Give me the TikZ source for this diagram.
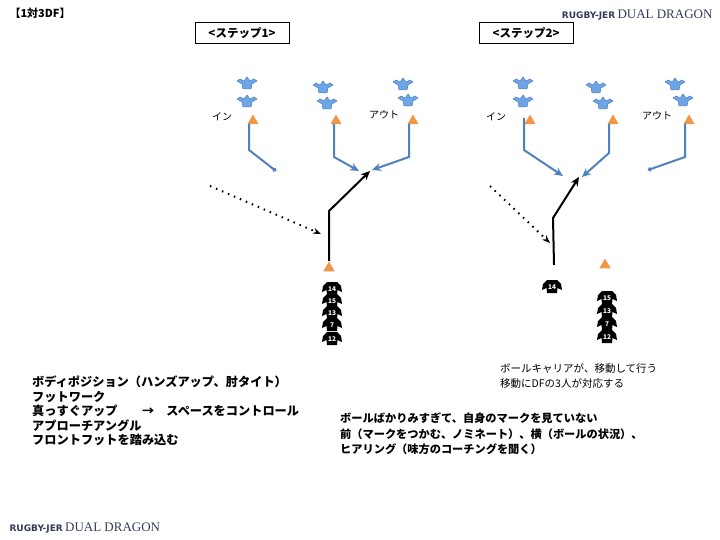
\documentclass[tikz,border=0pt]{standalone}
\usepackage{fontspec}
\setmainfont{Noto Sans CJK JP}
\newfontfamily\logoserif{Liberation Serif}
\newfontfamily\logosans{DejaVu Sans}
\usetikzlibrary{arrows.meta,shapes.geometric}
\definecolor{dfblue}{RGB}{79,129,189}
\definecolor{dflight}{RGB}{110,165,230}
\definecolor{cone}{RGB}{240,150,70}
\definecolor{logo}{RGB}{50,60,90}
\tikzset{
  defender/.pic={\fill[dflight,draw=dfblue,line width=0.5pt]
    (-4,6)--(4,6)--(5,1)--(10,-2)--(7,-4)--(3,-2)--(0,-6)--(-3,-2)--(-7,-4)--(-10,-2)--(-5,1)--cycle;},
  attacker/.pic={\fill[black] (-5,7)--(5,7)--(5.5,2)--(10,4)--(9,-2)--(5,-6)--(-5,-6)--(-9,-2)--(-10,4)--(-5.5,2)--cycle;
    \node[text=white,font=\bfseries\fontsize{6.5}{6.5}\selectfont,inner sep=0pt] at (0,1) {#1};},
  cone/.style={fill=cone,regular polygon,regular polygon sides=3,inner sep=0pt,minimum size=13pt},
  runline/.style={dfblue,line width=2pt,-{Stealth[length=9pt,width=8pt,open,line width=1.5pt]}},
  stopline/.style={dfblue,line width=2pt,-{Circle[length=4pt]}},
  carry/.style={black,line width=2pt,-{Stealth[length=9pt,width=8pt,open,line width=1.5pt]}},
  passline/.style={black,line width=2pt,dash pattern=on 1.5pt off 5pt,-{Stealth[length=8pt,open]}},
  stepbox/.style={draw,line width=0.8pt,font=\bfseries\fontsize{11.5}{11.5}\selectfont,minimum width=94pt,minimum height=21pt},
  note/.style={anchor=west,align=left,inner sep=0pt},
  label/.style={font=\fontsize{10}{10}\selectfont,inner sep=0pt}
}
\begin{document}
\begin{tikzpicture}[x=1pt,y=-1pt]
    \useasboundingbox (0,0) rectangle (720,540);

    % header
    \node[anchor=west,font=\bfseries\fontsize{11}{11}\selectfont] (title) at (6,13) {【1対3DF】};
    \node[anchor=east,text=logo] (logotop) at (716,15) {{\logosans\bfseries\fontsize{9}{9}\selectfont RUGBY-JER} {\logoserif\fontsize{13}{13}\selectfont DUAL DRAGON}};
    \node[anchor=west,text=logo] (logobot) at (6,528) {{\logosans\bfseries\fontsize{9}{9}\selectfont RUGBY-JER} {\logoserif\fontsize{13}{13}\selectfont DUAL DRAGON}};
    \node[stepbox] (stepA) at (242,33) {<ステップ1>};
    \node[stepbox] (stepB) at (526,33) {<ステップ2>};

    %%%%%%%%%%%%%%%%%%%%%%%%%%%%%%%%%%%%%%%%%%%%%%%%%%%%%%

    % step 1 defenders
    \foreach \x/\y in {247/83,247/101,323/87,327/103,403/84,408/100}
      \pic at (\x,\y) {defender};
    \node[cone] (inA) at (253,121) {};
    \node[cone] (midA) at (336,121) {};
    \node[cone] (outA) at (413,121) {};
    \node[label] (inlabA) at (222,117) {イン};
    \node[label] (outlabA) at (384,115) {アウト};

    % step 1 defence lines
    \coordinate (inA0) at (249,124);  \coordinate (inA1) at (249,150);  \coordinate (inA2) at (276,171);
    \coordinate (midA0) at (334,124); \coordinate (midA1) at (334,157); \coordinate (midA2) at (359,171);
    \coordinate (outA0) at (409,124); \coordinate (outA1) at (409,157); \coordinate (outA2) at (372,170);
    \draw[stopline] (inA0) -- (inA1) -- (inA2);
    \draw[runline] (midA0) -- (midA1) -- (midA2);
    \draw[runline] (outA0) -- (outA1) -- (outA2);

    % step 1 ball carrier
    \node[cone] (carrierA) at (329,268) {};
    \coordinate (bendA) at (329,211); \coordinate (tipA) at (370,171);
    \draw[carry] (carrierA.north) -- (bendA) -- (tipA);
    \coordinate (passA1) at (210,186); \coordinate (passA2) at (321,234);
    \draw[passline] (passA1) -- (passA2);
    \foreach \n/\y in {14/288,15/300,13/312,7/324,12/338}
      \pic at (332,\y) {attacker=\n};

    %%%%%%%%%%%%%%%%%%%%%%%%%%%%%%%%%%%%%%%%%%%%%%%%%%%%%%

    % step 2 defenders
    \foreach \x/\y in {523/83,523/101,596/87,603/103,675/84,683/100}
      \pic at (\x,\y) {defender};
    \node[cone] (inB) at (530,121) {};
    \node[cone] (midB) at (613,121) {};
    \node[cone] (outB) at (689,121) {};
    \node[label] (inlabB) at (496,117) {イン};
    \node[label] (outlabB) at (657,116) {アウト};

    % step 2 defence lines
    \coordinate (inB0) at (524,118);  \coordinate (inB1) at (524,150);  \coordinate (inB2) at (563,176);
    \coordinate (midB0) at (609,124); \coordinate (midB1) at (609,153); \coordinate (midB2) at (582,177);
    \coordinate (outB0) at (685,124); \coordinate (outB1) at (685,157); \coordinate (outB2) at (648,170);
    \draw[runline] (inB0) -- (inB1) -- (inB2);
    \draw[runline] (midB0) -- (midB1) -- (midB2);
    \draw[stopline] (outB0) -- (outB1) -- (outB2);

    % step 2 ball carrier
    \coordinate (startB) at (554,265); \coordinate (bendB) at (553,218); \coordinate (tipB) at (579,177);
    \draw[carry] (startB) -- (bendB) -- (tipB);
    \coordinate (passB1) at (490,186); \coordinate (passB2) at (550,243);
    \draw[passline] (passB1) -- (passB2);
    \node[cone] (supportB) at (605,265) {};
    \pic at (552,286) {attacker=14};
    \foreach \n/\y in {15/297,13/310,7/323,12/336}
      \pic at (607,\y) {attacker=\n};

    %%%%%%%%%%%%%%%%%%%%%%%%%%%%%%%%%%%%%%%%%%%%%%%%%%%%%%

    % notes
    \node[note,font=\fontsize{10.5}{15}\selectfont] (noteB) at (500,376) {ボールキャリアが、移動して行う\\移動にDFの3人が対応する};
    \node[note,font=\bfseries\fontsize{12.2}{14.5}\selectfont] (noteA) at (32,411) {ボディポジション（ハンズアップ、肘タイト）\\フットワーク\\真っすぐアップ　　→　スペースをコントロール\\アプローチアングル\\フロントフットを踏み込む};
    \node[note,font=\bfseries\fontsize{11.2}{15.5}\selectfont] (noteC) at (340,434) {ボールばかりみすぎて、自身のマークを見ていない\\前（マークをつかむ、ノミネート）、横（ボールの状況）、\\ヒアリング（味方のコーチングを聞く）};
\end{tikzpicture}
\end{document}
